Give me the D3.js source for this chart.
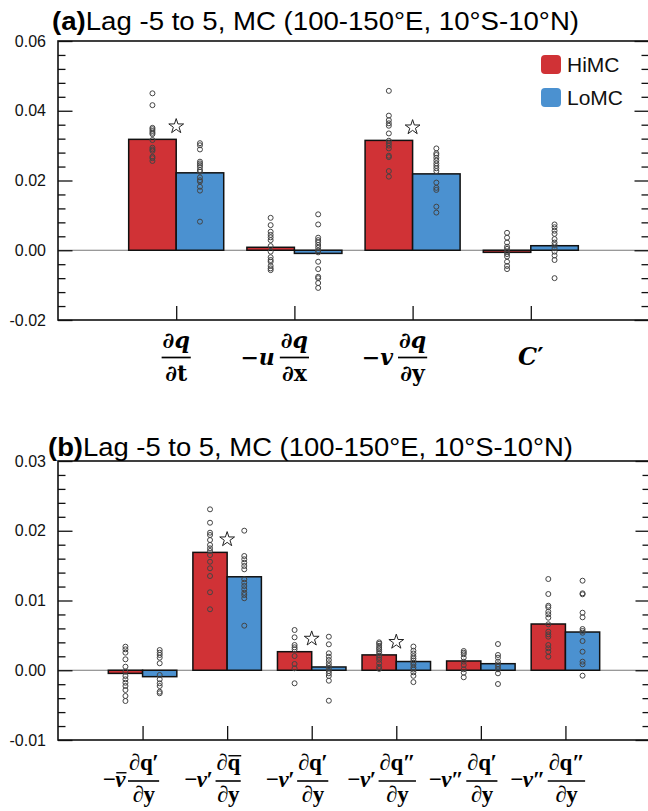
<!DOCTYPE html>
<html><head><meta charset="utf-8">
<script src="https://cdn.jsdelivr.net/npm/d3@7"></script>
<style>body{margin:0;background:#fff}svg{display:block}</style>
</head><body>
<script>
// ---------------- data ----------------
const seriesNames = ["HiMC", "LoMC"];
const seriesColors = ["#d03236", "#4b91d0"];
const titleText = "Lag -5 to 5, MC (100-150°E, 10°S-10°N)";

// panel (a)
const catsA = ["dqdt", "udqdx", "vdqdy", "C"];
const hiA = [0.0318, 0.00085, 0.0315, -0.0006];
const loA = [0.0222, -0.0009, 0.0219, 0.0013];
const sigA = [true, false, true, false];
const ptsHiA = [
  [0.0450,0.0416,0.0351,0.0347,0.0342,0.0337,0.0333,0.0316,0.0294,0.0289,0.0285,0.0268,0.0264,0.0256],
  [0.0093,0.0072,0.0053,0.0044,0.0037,0.0029,0.0012,-0.0004,-0.0020,-0.0028,-0.0033,-0.0045,-0.0052,-0.0057],
  [0.0457,0.0386,0.0373,0.0364,0.0357,0.0335,0.0314,0.0307,0.0300,0.0292,0.0271,0.0267,0.0227,0.0211],
  [0.0050,0.0036,0.0022,0.0010,0.0004,-0.0004,-0.0011,-0.0018,-0.0033,-0.0045,-0.0054]
];
const ptsLoA = [
  [0.0307,0.0301,0.0289,0.0254,0.0249,0.0244,0.0238,0.0230,0.0225,0.0209,0.0201,0.0197,0.0182,0.0171,0.0082],
  [0.0103,0.0074,0.0036,0.0029,0.0023,0.0015,0.0007,-0.0001,-0.0006,-0.0033,-0.0054,-0.0076,-0.0080,-0.0094,-0.0108],
  [0.0292,0.0278,0.0273,0.0265,0.0257,0.0249,0.0242,0.0235,0.0227,0.0194,0.0179,0.0173,0.0125,0.0108],
  [0.0074,0.0066,0.0056,0.0047,0.0032,0.0022,0.0015,0.0006,-0.0004,-0.0015,-0.0028,-0.0080]
];
const yDomainA = [-0.02, 0.06];
const yTicksA = [-0.02, 0, 0.02, 0.04, 0.06];
const yTickLabelsA = ["-0.02", "0.00", "0.02", "0.04", "0.06"];
// x labels (a): runs of [text, italic]
const lblA = [
  {pre: [], num: [["∂",0],["q",1]], den: [["∂",0],["t",0]]},
  {pre: [["−",0],["u",1]], num: [["∂",0],["q",1]], den: [["∂",0],["x",0]]},
  {pre: [["−",0],["v",1]], num: [["∂",0],["q",1]], den: [["∂",0],["y",0]]},
  {pre: [["C",1],["′",0]], num: null, den: null}
];

// panel (b)
const catsB = ["b1", "b2", "b3", "b4", "b5", "b6"];
const hiB = [-0.00045, 0.0169, 0.00266, 0.0022, 0.00133, 0.00663];
const loB = [-0.00092, 0.0134, 0.00047, 0.00125, 0.00094, 0.00548];
const sigB = [false, true, true, true, false, false];
const ptsHiB = [
  [0.00338,0.00300,0.00252,0.00157,0.00051,-0.00021,-0.00082,-0.00130,-0.00179,-0.00226,-0.00283,-0.00369,-0.00441],
  [0.02307,0.02115,0.01972,0.01939,0.01867,0.01796,0.01748,0.01710,0.01652,0.01556,0.01462,0.01351,0.01118,0.00874],
  [0.00577,0.00472,0.00362,0.00329,0.00300,0.00204,0.00090,0.00028,-0.00187],
  [0.0040,0.0038,0.0035,0.0032,0.0030,0.0027,0.0024,0.0021,0.0018,0.0015,0.0010,0.0005,0.0002],
  [0.00276,0.00252,0.00229,0.00180,0.00123,0.00075,0.00014,-0.00035,-0.00101],
  [0.01308,0.01093,0.00925,0.00902,0.00839,0.00802,0.00753,0.00659,0.00553,0.00515,0.00481,0.00362,0.00315,0.00266,0.00194]
];
const ptsLoB = [
  [0.00290,0.00252,0.00219,0.00180,0.00100,-0.00068,-0.00130,-0.00187,-0.00226,-0.00308,-0.00330],
  [0.02001,0.01638,0.01591,0.01542,0.01495,0.01447,0.01304,0.01255,0.01208,0.01161,0.01112,0.01079,0.01032,0.00639],
  [0.00481,0.00372,0.00243,0.00194,0.00147,0.00100,0.00061,0.00028,-0.00011,-0.00044,-0.00082,-0.00150,-0.00437],
  [0.0034,0.0028,0.0024,0.0020,0.0017,0.0014,0.0011,0.0008,0.0004,0.0001,-0.0003,-0.0008,-0.0017],
  [0.00376,0.00219,0.00180,0.00123,0.00085,0.00051,0.00014,-0.00044,-0.00197],
  [0.01284,0.01103,0.01089,0.00825,0.00759,0.00591,0.00563,0.00538,0.00419,0.00266,0.00123,0.00085,-0.00078]
];
const yDomainB = [-0.01, 0.03];
const yTicksB = [-0.01, 0, 0.01, 0.02, 0.03];
const yTickLabelsB = ["-0.01", "0.00", "0.01", "0.02", "0.03"];
// runs: [text, italic, overbar]
const lblB = [
  {pre: [["−",0],["v",1,1]], num: [["∂",0],["q",0],["′",0]], den: [["∂",0],["y",0]]},
  {pre: [["−",0],["v",1],["′",0]], num: [["∂",0],["q",0,1]], den: [["∂",0],["y",0]]},
  {pre: [["−",0],["v",1],["′",0]], num: [["∂",0],["q",0],["′",0]], den: [["∂",0],["y",0]]},
  {pre: [["−",0],["v",1],["′",0]], num: [["∂",0],["q",0],["″",0]], den: [["∂",0],["y",0]]},
  {pre: [["−",0],["v",1],["″",0]], num: [["∂",0],["q",0],["′",0]], den: [["∂",0],["y",0]]},
  {pre: [["−",0],["v",1],["″",0]], num: [["∂",0],["q",0],["″",0]], den: [["∂",0],["y",0]]}
];

// ---------------- drawing ----------------
const W = 648, H = 811;
const svg = d3.select("body").append("svg").attr("width", W).attr("height", H);
const SANS = "'Liberation Sans', Arial, Helvetica, sans-serif";

function runsText(g, runs, x, base, cfg, size) {
  size = size || cfg.size;
  let cx = x;
  runs.forEach(r => {
    const t = g.append("text")
      .attr("x", cx).attr("y", base)
      .attr("font-family", cfg.font).attr("font-size", size)
      .attr("font-weight", "bold")
      .attr("font-style", r[1] ? "italic" : "normal")
      .attr("fill", "#000")
      .text(r[0]);
    const w = t.node().getComputedTextLength();
    if (r[2]) {
      g.append("line").attr("x1", cx + 1).attr("x2", cx + w + 1)
        .attr("y1", base - size * 0.62).attr("y2", base - size * 0.62)
        .attr("stroke", "#000").attr("stroke-width", 1.4);
    }
    cx += w + (cfg.kern || 0);
  });
  return cx - x;
}
function measure(g, runs, cfg, size) {
  const tmp = g.append("g").attr("opacity", 0);
  const w = runsText(tmp, runs, 0, 0, cfg, size);
  tmp.remove();
  return w;
}

function panel(o) {
  const g = svg.append("g");
  const y = d3.scaleLinear().domain(o.yDomain).range([o.bottom, o.top]);
  const x = d3.scalePoint().domain(o.cats).range([o.left, o.xRight]).padding(1);
  const bw = x.step() * o.barFrac;

  // zero line
  g.append("line").attr("x1", o.left).attr("x2", o.right)
    .attr("y1", y(0)).attr("y2", y(0)).attr("stroke", "#777").attr("stroke-width", 1.2);

  // bars
  const series = [o.hi, o.lo];
  series.forEach((vals, s) => {
    g.selectAll(null).data(vals).enter().append("rect")
      .attr("x", (d, i) => x(o.cats[i]) - bw + s * bw)
      .attr("y", d => Math.min(y(0), y(d)))
      .attr("width", bw)
      .attr("height", d => Math.abs(y(d) - y(0)))
      .attr("fill", seriesColors[s])
      .attr("stroke", "#111").attr("stroke-width", 1.5);
  });

  // member points
  [o.ptsHi, o.ptsLo].forEach((groups, s) => {
    groups.forEach((arr, i) => {
      g.selectAll(null).data(arr).enter().append("circle")
        .attr("cx", x(o.cats[i]) - bw / 2 + s * bw)
        .attr("cy", d => y(d))
        .attr("r", 2.5)
        .attr("fill", "none").attr("stroke", "#444").attr("stroke-width", 1);
    });
  });

  // significance stars
  const star = d3.symbol().type(d3.symbolStar).size(68);
  o.sig.forEach((sg, i) => {
    if (!sg) return;
    const top = y(Math.max(o.hi[i], o.lo[i], 0));
    g.append("path").attr("d", star)
      .attr("transform", `translate(${x(o.cats[i])},${top - 13})`)
      .attr("fill", "none").attr("stroke", "#222").attr("stroke-width", 1);
  });

  // axes
  const minor = d3.range(o.yDomain[0], o.yDomain[1] + 1e-9, o.minorStep)
    .filter(v => !o.yTicks.some(t => Math.abs(t - v) < 1e-9));
  const axStyle = sel => {
    sel.select(".domain").remove();
    sel.selectAll("line").attr("stroke", "#111").attr("stroke-width", 1.3);
  };
  g.append("g").attr("transform", `translate(${o.left},0)`)
    .call(d3.axisLeft(y).tickValues(o.yTicks).tickSize(-14.5).tickPadding(12)
      .tickFormat((d, i) => o.yTickLabels[i]))
    .call(axStyle)
    .call(a => a.selectAll("text").attr("font-family", SANS).attr("font-size", 16).attr("fill", "#111"));
  g.append("g").attr("transform", `translate(${o.left},0)`)
    .call(d3.axisLeft(y).tickValues(minor).tickSize(-7.5).tickFormat(""))
    .call(axStyle);
  g.append("g").attr("transform", `translate(${o.right},0)`)
    .call(d3.axisRight(y).tickValues(o.yTicks).tickSize(-14.5).tickFormat(""))
    .call(axStyle);
  g.append("g").attr("transform", `translate(${o.right},0)`)
    .call(d3.axisRight(y).tickValues(minor).tickSize(-7.5).tickFormat(""))
    .call(axStyle);
  g.append("g").attr("transform", `translate(0,${o.bottom})`)
    .call(d3.axisBottom(x).tickSize(-14).tickFormat(""))
    .call(axStyle);

  // frame
  g.append("rect").attr("x", o.left).attr("y", o.top)
    .attr("width", o.right - o.left).attr("height", o.bottom - o.top)
    .attr("fill", "none").attr("stroke", "#111").attr("stroke-width", 1.6);

  // title
  const tt = g.append("text").attr("x", o.titleX).attr("y", o.titleY)
    .attr("font-family", SANS).attr("font-size", 25).attr("fill", "#000")
    .attr("textLength", o.titleLen).attr("lengthAdjust", "spacingAndGlyphs");
  tt.append("tspan").attr("font-weight", "bold").text(o.tag);
  tt.append("tspan").text(titleText);

  // x labels
  const cfg = o.lblCfg;
  o.labels.forEach((lb, i) => {
    const cx = x(o.cats[i]) + (cfg.dx || 0);
    const lg = g.append("g");
    if (!lb.num) {
      const w = measure(lg, lb.pre, cfg, cfg.singleSize);
      runsText(lg, lb.pre, cx - w / 2, cfg.singleBase, cfg, cfg.singleSize);
      return;
    }
    const nw = measure(lg, lb.num, cfg), dw = measure(lg, lb.den, cfg);
    const fw = Math.max(nw, dw) + 2;
    const fl = cx - fw / 2;
    runsText(lg, lb.num, cx - nw / 2, cfg.numBase, cfg);
    runsText(lg, lb.den, cx - dw / 2, cfg.denBase, cfg);
    lg.append("line").attr("x1", fl).attr("x2", fl + fw)
      .attr("y1", cfg.lineY).attr("y2", cfg.lineY)
      .attr("stroke", "#000").attr("stroke-width", cfg.lineW);
    if (lb.pre.length) {
      const pw = measure(lg, lb.pre, cfg);
      runsText(lg, lb.pre, fl - cfg.gap - pw, cfg.preBase, cfg);
    }
  });
}

panel({
  cats: catsA, hi: hiA, lo: loA, sig: sigA, ptsHi: ptsHiA, ptsLo: ptsLoA,
  yDomain: yDomainA, yTicks: yTicksA, yTickLabels: yTickLabelsA, minorStep: 0.004,
  left: 58, right: 649, xRight: 649, top: 41, bottom: 320, barFrac: 0.402,
  tag: "(a)", titleX: 52, titleY: 30, titleLen: 527,
  labels: lblA,
  lblCfg: {font: "'DejaVu Serif', serif", size: 22, numBase: 348, lineY: 357.5, denBase: 381,
           preBase: 365, singleBase: 365, singleSize: 24, gap: 5, lineW: 1.7, dx: 0}
});

panel({
  cats: catsB, hi: hiB, lo: loB, sig: sigB, ptsHi: ptsHiB, ptsLo: ptsLoB,
  yDomain: yDomainB, yTicks: yTicksB, yTickLabels: yTickLabelsB, minorStep: 0.002,
  left: 58, right: 650, xRight: 650, top: 461, bottom: 740, barFrac: 0.405,
  tag: "(b)", titleX: 48, titleY: 456, titleLen: 525,
  labels: lblB,
  lblCfg: {font: "'Liberation Serif', 'Times New Roman', serif", size: 23, numBase: 770, lineY: 781,
           denBase: 802, preBase: 787, singleBase: 787, singleSize: 23, gap: 3, lineW: 1.6, dx: 1, kern: -0.5}
});

// legend
const leg = svg.append("g");
seriesNames.forEach((nm, i) => {
  leg.append("rect").attr("x", 541).attr("y", 55 + i * 33).attr("width", 20).attr("height", 19)
    .attr("rx", 4).attr("fill", seriesColors[i]);
  leg.append("text").attr("x", 567).attr("y", 72 + i * 33)
    .attr("font-family", SANS).attr("font-size", 21).attr("fill", "#111").text(nm);
});
</script>
</body></html>
